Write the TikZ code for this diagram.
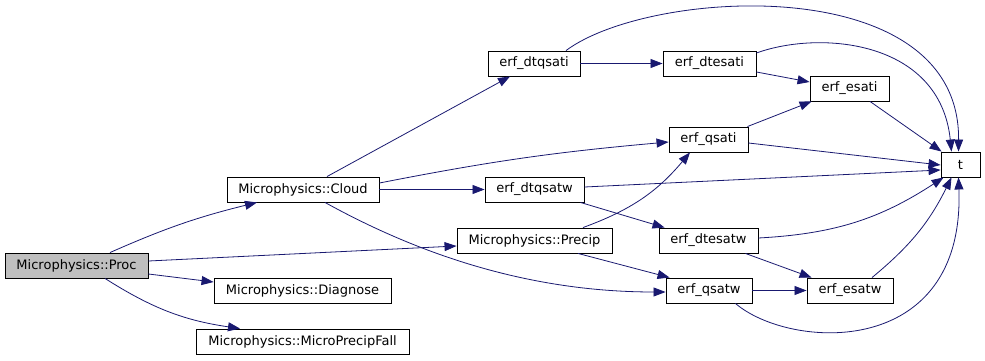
\documentclass[tikz,border=0pt]{standalone}
\usepackage{fontspec}
\setmainfont{DejaVu Sans}
\usetikzlibrary{arrows.meta}
\definecolor{callblue}{HTML}{191970}
\tikzset{%
  >={Triangle[length=12pt,width=9pt]}, % filled arrow heads
  fn/.style={draw=black,line width=0.9pt,fill=white,minimum height=25pt,
  inner sep=0pt,font=\fontsize{13}{15}\selectfont},%
  root/.style={fn,fill=black!25},%
  call/.style={->,draw=callblue,fill=none,line width=0.8pt}%
}

\begin{document}
\begin{tikzpicture}[x=1pt,y=-1pt] % call graph of Microphysics::Proc

    \useasboundingbox (0,0) rectangle (985,361);

    % first column
    \node[root,minimum width=143] (Proc) at (76.5,265.5) {Microphysics::Proc};

    % second column
    \node[fn,minimum width=152] (Cloud) at (303,189.5) {Microphysics::Cloud};
    \node[fn,minimum width=177] (Diagnose) at (302.5,291) {Microphysics::Diagnose};
    \node[fn,minimum width=213] (Fall) at (302.5,341.5) {Microphysics::MicroPrecipFall};

    % third column
    \node[fn,minimum width=92] (dtqsati) at (534,63.5) {erf\_dtqsati};
    \node[fn,minimum width=99] (dtqsatw) at (534.5,189.5) {erf\_dtqsatw};
    \node[fn,minimum width=155] (Precip) at (534.5,240.5) {Microphysics::Precip};

    % fourth column
    \node[fn,minimum width=93] (dtesati) at (709.5,63.5) {erf\_dtesati};
    \node[fn,minimum width=79] (qsati) at (708.5,139.5) {erf\_qsati};
    \node[fn,minimum width=99] (dtesatw) at (708.5,240.5) {erf\_dtesatw};
    \node[fn,minimum width=86] (qsatw) at (709,290.5) {erf\_qsatw};

    % fifth column and the leaf
    \node[fn,minimum width=79] (esati) at (849.5,88.5) {erf\_esati};
    \node[fn,minimum width=86] (esatw) at (850,290.5) {erf\_esatw};
    \node[fn,minimum width=39] (t) at (960.5,164.5) {t};

    % calls out of Proc
    \draw[call] ([xshift=33.5]Proc.north) to[bend left=5] ([xshift=-46]Cloud.south);
    \draw[call] ([yshift=4.5]Proc.east) -- ([yshift=-5.5]Precip.west);
    \draw[call] ([yshift=-8.5]Proc.east) -- ([yshift=9]Diagnose.west);
    \draw[call] ([xshift=28.5]Proc.south) to[bend right=12] ([xshift=-62.5]Fall.north);

    % calls out of Cloud
    \draw[call] ([xshift=24]Cloud.north) -- ([xshift=-24]dtqsati.south);
    \draw[call] ([yshift=6.5]Cloud.east) to[bend left=3] ([yshift=-2.5]qsati.west);
    \draw[call] (Cloud.east) -- (dtqsatw.west);
    \draw[call] ([xshift=22]Cloud.south) .. controls (420,255) and (530,292) .. ([yshift=-1.5]qsatw.west);

    % calls out of Precip
    \draw[call] ([xshift=48.5]Precip.north) to[bend right=15] ([xshift=-18.5]qsati.south);
    \draw[call] ([xshift=43.5]Precip.south) -- ([xshift=4]qsatw.north west);

    % ice branch
    \draw[call] (dtqsati.east) -- (dtesati.west);
    \draw[call] ([xshift=32]dtqsati.north) .. controls (650,-12) and (960,-30) .. ([xshift=-2]t.north);
    \draw[call] ([yshift=10.5]dtesati.east) .. controls (820,30) and (940,40) .. ([xshift=-9]t.north);
    \draw[call] ([yshift=-8.5]dtesati.east) -- ([yshift=6.5]esati.west);
    \draw[call] ([xshift=-1]qsati.north east) -- ([xshift=2]esati.south west);
    \draw[call] ([yshift=-3.5]qsati.east) -- ([yshift=-0.5]t.west);
    \draw[call] ([xshift=20.5]esati.south) -- ([xshift=1]t.north west);

    % water branch
    \draw[call] ([yshift=2.5]dtqsatw.east) -- ([yshift=-5.5]t.west);
    \draw[call] ([xshift=-4]dtqsatw.south east) -- ([xshift=6]dtesatw.north west);
    \draw[call] ([yshift=2.5]dtesatw.east) to[bend right=15] ([xshift=3]t.south west);
    \draw[call] ([xshift=-13]dtesatw.south east) -- ([xshift=5]esatw.north west);
    \draw[call] (qsatw.east) -- (esatw.west);
    \draw[call] ([xshift=-17]qsatw.south east) .. controls (790,350) and (965,360) .. ([xshift=-2]t.south);
    \draw[call] ([xshift=22]esatw.north) to[bend right=12] ([xshift=-9]t.south);

\end{tikzpicture}
\end{document}
